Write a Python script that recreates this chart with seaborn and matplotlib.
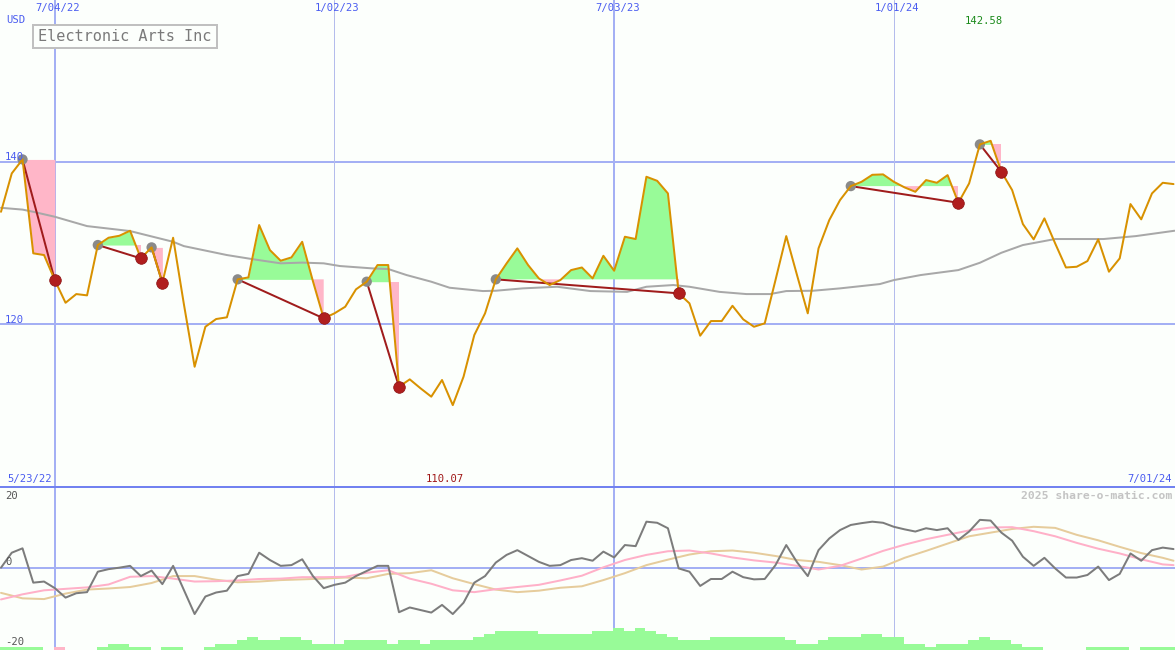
import numpy as np
import matplotlib
matplotlib.use("Agg")
import matplotlib.pyplot as plt
from matplotlib.lines import Line2D
from matplotlib.patches import Rectangle
import seaborn as sns

# ---------------- data (weekly closes, week 0 = 5/30/22) ----------------
weeks = list(range(110))
price = [133.85, 138.57, 140.29, 128.74, 128.53, 125.45, 122.66, 123.73, 123.57, 129.76,
         130.66, 130.90, 131.52, 128.12, 129.47, 125.12, 130.66, 122.50, 114.79, 119.71,
         120.66, 120.87, 125.54, 125.78, 132.22, 129.14, 127.83, 128.24, 130.16, 125.30,
         120.74, 121.36, 122.17, 124.31, 125.25, 127.30, 127.30, 112.33, 113.24, 112.14,
         111.11, 113.16, 110.07, 113.57, 118.69, 121.36, 125.54, 127.50, 129.35, 127.30,
         125.66, 124.84, 125.45, 126.68, 127.00, 125.66, 128.44, 126.60, 130.78, 130.50,
         138.16, 137.66, 136.11, 123.82, 122.59, 118.61, 120.41, 120.41, 122.29, 120.62,
         119.71, 120.13, 125.45, 130.86, 126.07, 121.36, 129.35, 132.83, 135.29, 137.01,
         137.54, 138.40, 138.45, 137.54, 136.85, 136.31, 137.75, 137.42, 138.36, 134.96,
         137.34, 142.14, 142.58, 138.77, 136.52, 132.34, 130.46, 133.04, 129.96, 127.00,
         127.09, 127.79, 130.46, 126.48, 128.12, 134.80, 132.92, 136.11, 137.42, 137.26]

ma_weeks = [0, 2, 3, 5, 8, 12, 16, 17, 21, 23.5, 26, 28, 30, 31.5, 34.5, 36, 37.7, 40, 41.7,
            44.8, 46, 48.5, 51.7, 54.8, 58.2, 60, 62.5, 64, 66.8, 69.3, 71.5, 73, 75.5, 78,
            81.7, 83, 85.5, 89, 91, 93, 95, 98, 102.5, 105.5, 109.1]
ma_values = [134.34, 134.12, 133.85, 133.24, 132.09, 131.48, 130.16, 129.63, 128.53, 128.00,
             127.51, 127.60, 127.51, 127.18, 126.89, 126.81, 126.07, 125.25, 124.51, 124.10,
             124.14, 124.43, 124.63, 124.10, 124.00, 124.63, 124.84, 124.63, 124.00, 123.73,
             123.73, 124.10, 124.14, 124.43, 124.96, 125.45, 126.07, 126.68, 127.58, 128.81,
             129.76, 130.50, 130.50, 130.86, 131.52]

trade_entry = [2, 9, 14, 22, 34, 46, 79, 91]
trade_exit = [5, 13, 15, 30, 37, 63, 89, 93]

momentum = [0.0, 4.1, 5.3, -4.1, -3.8, -5.6, -8.2, -7.0, -6.7, -1.1,
            -0.4, 0.0, 0.5, -2.3, -0.8, -4.5, 0.5, -6.1, -12.7, -7.9,
            -6.8, -6.3, -2.3, -1.7, 4.1, 2.1, 0.5, 0.7, 2.3, -2.3,
            -5.6, -4.7, -4.1, -2.3, -0.9, 0.5, 0.5, -12.2, -10.9, -11.6,
            -12.3, -10.2, -12.7, -9.6, -4.1, -2.3, 1.4, 3.5, 4.8, 3.2,
            1.6, 0.5, 0.7, 2.1, 2.6, 1.9, 4.4, 2.8, 6.2, 5.9,
            12.6, 12.3, 10.8, -0.2, -1.1, -5.0, -3.1, -3.1, -1.1, -2.6,
            -3.2, -3.1, 0.7, 6.2, 1.5, -2.3, 4.8, 8.0, 10.3, 11.7,
            12.2, 12.6, 12.3, 11.2, 10.5, 9.9, 10.8, 10.3, 10.8, 7.6,
            9.9, 13.1, 12.9, 9.6, 7.4, 3.0, 0.5, 2.7, -0.2, -2.7,
            -2.7, -2.0, 0.3, -3.4, -1.7, 3.9, 1.9, 4.8, 5.5, 5.1]

avg_weeks = list(range(0, 109, 2)) + [109]
avg_fast = [-8.7, -7.3, -6.2, -5.8, -5.4, -4.6, -2.5, -2.3, -3.0, -3.8,
            -3.7, -3.5, -3.1, -3.0, -2.6, -2.6, -2.5, -1.4, -0.7, -3.0,
            -4.4, -6.2, -6.7, -5.9, -5.3, -4.7, -3.5, -2.2, 0.1, 2.1,
            3.5, 4.5, 4.7, 3.9, 2.8, 2.0, 1.4, 0.5, -0.5, 0.5,
            2.5, 4.6, 6.3, 7.8, 9.0, 10.2, 11.0, 11.1, 10.0, 8.6,
            6.8, 5.2, 3.9, 2.3, 0.9, 0.7]
avg_slow = [-6.9, -8.4, -8.6, -7.1, -6.0, -5.7, -5.3, -4.2, -2.3, -2.3,
            -3.3, -4.0, -3.8, -3.4, -3.2, -3.0, -2.7, -2.9, -1.7, -1.5,
            -0.7, -2.9, -4.5, -6.0, -6.7, -6.3, -5.5, -5.1, -3.4, -1.5,
            0.7, 2.2, 3.6, 4.5, 4.7, 4.1, 3.2, 2.1, 1.6, 0.7,
            -0.5, 0.3, 2.7, 4.6, 6.6, 8.6, 9.6, 10.6, 11.2, 10.9,
            9.0, 7.5, 5.7, 4.0, 2.7, 1.9]

# volume-style strength bars (levels), sign: 1 = green, -1 = pink
bar_levels = [1, 1, 1, 1, 0, 1, 0, 0, 0, 1,
              2, 2, 1, 1, 0, 1, 1, 0, 0, 1,
              2, 2, 3, 4, 3, 3, 4, 4, 3, 2,
              2, 2, 3, 3, 3, 3, 2, 3, 3, 2,
              3, 3, 3, 3, 4, 5, 6, 6, 6, 6,
              5, 5, 5, 5, 5, 6, 6, 7, 6, 7,
              6, 5, 4, 3, 3, 3, 4, 4, 4, 4,
              4, 4, 4, 3, 2, 2, 3, 4, 4, 4,
              5, 5, 4, 4, 2, 2, 1, 2, 2, 2,
              3, 4, 3, 3, 2, 1, 1, 0, 0, 0,
              0, 1, 1, 1, 1, 0, 1, 1, 1, 1]
bar_sign = [1] * 110
bar_sign[5] = -1

tick_weeks = [5, 31, 57, 83]
tick_labels = ["7/04/22", "1/02/23", "7/03/23", "1/01/24"]
start_label, end_label = "5/23/22", "7/01/24"
title = "Electronic Arts Inc"
max_label, min_label = "142.58", "110.07"

# ---------------- styling ----------------
W, H = 1175, 650
BG = "#fcfffc"
BLUE_TXT = "#4a5cf0"
GRID = "#a4b0f4"
ORANGE = "#d89100"
GREEN = "#98fb98"
PINK = "#ffb6c8"
PX = 0.72  # one pixel in points at 100 dpi

sns.set_style("white")
plt.rcParams["font.family"] = ["DejaVu Sans Mono", "DejaVu Sans"]

fig = plt.figure(figsize=(W / 100, H / 100), dpi=100, facecolor=BG)
ax = fig.add_axes([0, 163 / H, 1, 487 / H])
ax2 = fig.add_axes([0, 0, 1, 163 / H])
for a in (ax, ax2):
    a.set_facecolor(BG)
    for s in a.spines.values():
        s.set_visible(False)
    a.set_xticks([])
    a.set_yticks([])
    a.set_xlim(-0.093, 109.14)
ax.set_ylim(100, 159.9)
ax2.set_ylim(-22.55, 22.1)

p = np.array(price)
k = np.array(weeks)

# grid lines
for v in (140, 120):
    ax.axhline(v, color=GRID, lw=2 * PX, zorder=1)
ax2.axhline(0, color=GRID, lw=2 * PX, zorder=1)
for i, tw in enumerate(tick_weeks):
    thick = (i % 2 == 0)
    for a in (ax, ax2):
        a.axvline(tw, color=GRID if thick else "#b4bcec", lw=(2 if thick else 1) * PX, zorder=1)

# trade fills
for e, x in zip(trade_entry, trade_exit):
    ks = k[e:x + 1]
    ps = p[e:x + 1]
    lvl = p[e]
    ax.fill_between(ks, lvl, ps, where=ps >= lvl, interpolate=True, color=GREEN, lw=0, zorder=2)
    ax.fill_between(ks, lvl, ps, where=ps <= lvl, interpolate=True, color=PINK, lw=0, zorder=2)

# moving average
sns.lineplot(x=ma_weeks, y=ma_values, ax=ax, color="#a8a8a8", linewidth=2 * PX,
             sort=False, estimator=None, zorder=3)

# trade lines and entry dots
for e, x in zip(trade_entry, trade_exit):
    sns.lineplot(x=[e, x], y=[p[e], p[x]], ax=ax, color="#a01c1c", linewidth=2 * PX,
                 sort=False, estimator=None, zorder=4)
sns.scatterplot(x=trade_entry, y=p[trade_entry], ax=ax, s=55, color="#8a8a8a",
                edgecolor="none", zorder=4)

# price
sns.lineplot(x=weeks, y=price, ax=ax, color=ORANGE, linewidth=2 * PX,
             sort=False, estimator=None, zorder=5)
sns.scatterplot(x=trade_exit, y=p[trade_exit], ax=ax, s=70, color="#b01e1e",
                edgecolor="#8a1010", linewidth=0.5, zorder=6)

# bottom panel bars
unit_px = 163 / (22.1 + 22.55)
lev = np.array(bar_levels)
bx = k - 0.093
cols = [GREEN if s > 0 else PINK for s in bar_sign]
ax2.bar(bx, lev * 3.2 / unit_px, width=1.0, align="edge", bottom=-22.55,
        color=cols, linewidth=0, zorder=2)

sns.lineplot(x=avg_weeks, y=avg_slow, ax=ax2, color="#e6cc9c", linewidth=2 * PX,
             sort=False, estimator=None, zorder=3)
sns.lineplot(x=avg_weeks, y=avg_fast, ax=ax2, color="#ffb0c8", linewidth=2 * PX,
             sort=False, estimator=None, zorder=3)
sns.lineplot(x=weeks, y=momentum, ax=ax2, color="#7c7c7c", linewidth=2 * PX,
             sort=False, estimator=None, zorder=4)

# separator line
fig.add_artist(Line2D([0, 1], [163 / H, 163 / H], transform=fig.transFigure,
                      color="#7282f0", lw=2 * PX))

# ---------------- texts ----------------
def ftext(xp, yp, s, **kw):
    fig.text(xp / W, 1 - yp / H, s, **kw)

fs = 7.6
for tw, lab in zip(tick_weeks, tick_labels):
    ftext(1 + 10.757 * tw + 3, 8, lab, ha="center", va="center", fontsize=fs, color=BLUE_TXT)
ftext(6, 20, "USD", ha="left", va="center", fontsize=fs, color=BLUE_TXT)
ftext(5, 157, "140", ha="left", va="center", fontsize=fs, color=BLUE_TXT)
ftext(5, 320, "120", ha="left", va="center", fontsize=fs, color=BLUE_TXT)
ftext(7, 479, start_label, ha="left", va="center", fontsize=fs, color=BLUE_TXT)
ftext(1172, 479, end_label, ha="right", va="center", fontsize=fs, color=BLUE_TXT)
ftext(445, 479, min_label, ha="center", va="center", fontsize=fs, color="#a01818")
ftext(984, 21, max_label, ha="center", va="center", fontsize=fs, color="#1a8a1a")
ftext(1172, 496, "2025 share-o-matic.com", ha="right", va="center", fontsize=8.2,
      color="#c4c4c4", fontweight="bold")
ftext(5, 496, "20", ha="left", va="center", fontsize=fs, color="#555555")
ftext(5, 562, "0", ha="left", va="center", fontsize=fs, color="#555555")
ftext(5, 642, "-20", ha="left", va="center", fontsize=fs, color="#555555")

# title box
fig.add_artist(Rectangle((33 / W, 1 - 48 / H), 184 / W, 23 / H, transform=fig.transFigure,
                         facecolor=BG, edgecolor="#c0c0c0", linewidth=2 * PX, zorder=10))
ftext(38, 36.5, title, ha="left", va="center", fontsize=11.0, color="#7a7a7a", zorder=11)

fig.savefig("out.png", dpi=100, facecolor=BG)
